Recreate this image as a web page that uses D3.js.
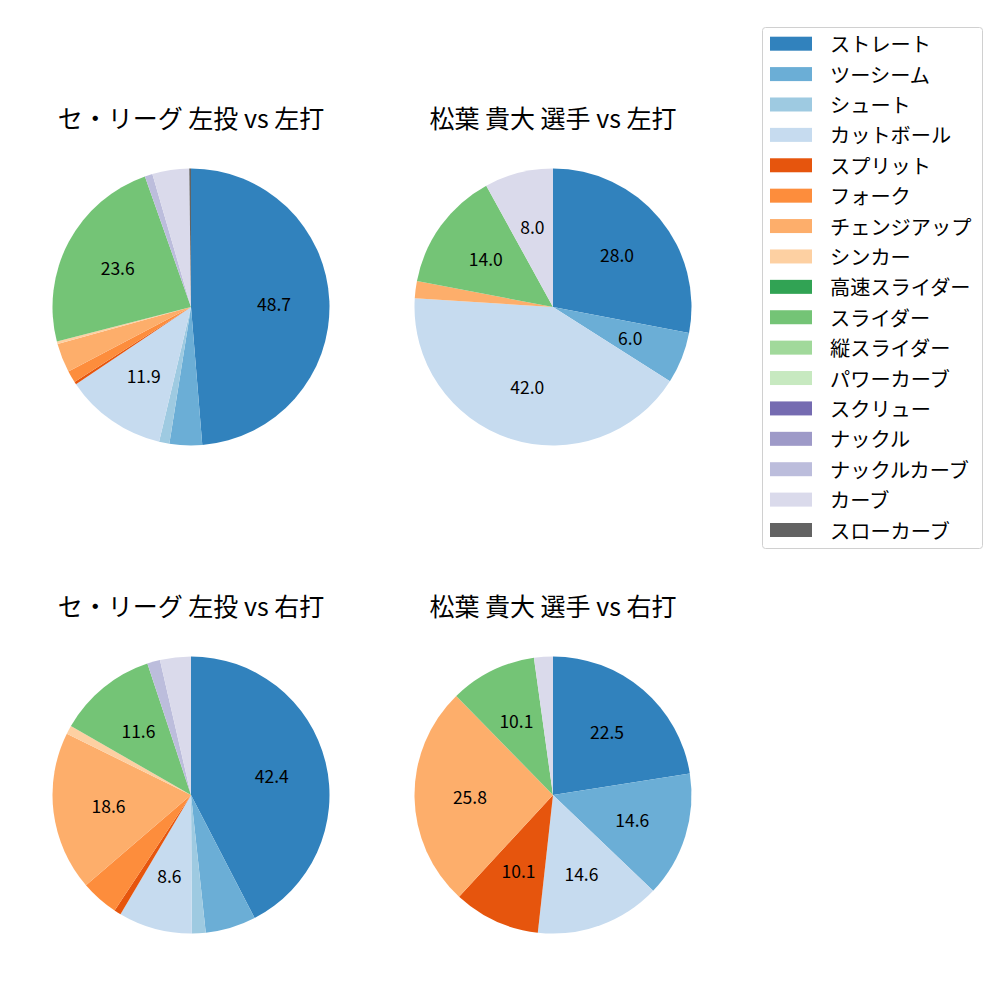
<!DOCTYPE html>
<html><head><meta charset="utf-8">
<script src="https://cdn.jsdelivr.net/npm/d3@7"></script>
<style>body{margin:0;background:#fff}svg{display:block}text{font-family:"Noto Sans CJK JP","Noto Sans",sans-serif}</style>
</head><body><svg id="c" width="1000" height="1000"></svg>
<script>
const pitchTypes = ["ストレート","ツーシーム","シュート","カットボール","スプリット","フォーク","チェンジアップ","シンカー","高速スライダー","スライダー","縦スライダー","パワーカーブ","スクリュー","ナックル","ナックルカーブ","カーブ","スローカーブ"];
const pitchColors = ["#3182bd","#6baed6","#9ecae1","#c6dbef","#e6550d","#fd8d3c","#fdae6b","#fdd0a2","#31a354","#74c476","#a1d99b","#c7e9c0","#756bb1","#9e9ac8","#bcbddc","#dadaeb","#636363"];
const chartTitles = ["セ・リーグ 左投 vs 左打","松葉 貴大 選手 vs 左打","セ・リーグ 左投 vs 右打","松葉 貴大 選手 vs 右打"];
const leagueVsLeft  = [48.7,3.8,1.2,11.9,0.3,1.4,3.4,0.3,0,23.6,0,0,0,0,0.9,4.3,0.2];
const playerVsLeft  = [28.0,6.0,0,42.0,0,0,2.0,0,0,14.0,0,0,0,0,0,8.0,0];
const leagueVsRight = [42.4,5.9,1.6,8.6,0.8,4.4,18.6,1.0,0,11.6,0,0,0,0,1.5,3.6,0];
const playerVsRight = [22.5,14.6,0,14.6,10.1,0,25.8,0,0,10.1,0,0,0,0,0,2.2,0];
const labelThreshold = 6;

const svg = d3.select("#c");
const series = [leagueVsLeft, playerVsLeft, leagueVsRight, playerVsRight];
const centers = [[191,307],[553,307],[191,795],[553,795]];
const R = 138.5;
const color = d3.scaleOrdinal().domain(pitchTypes).range(pitchColors);
const pie = d3.pie().sort(null).value(d => d.v);
const arc = d3.arc().innerRadius(0).outerRadius(R);
const labelArc = d3.arc().innerRadius(R*0.6).outerRadius(R*0.6);

series.forEach((vals, i) => {
  const data = pitchTypes.map((name, k) => ({name, v: vals[k]})).filter(d => d.v > 0);
  const g = svg.append("g").attr("transform", `translate(${centers[i][0]},${centers[i][1]})`);
  const arcs = pie(data);
  g.selectAll("path").data(arcs).join("path")
    .attr("d", arc).attr("fill", d => color(d.data.name));
  g.selectAll("text.lbl").data(arcs.filter(d => d.data.v >= labelThreshold)).join("text")
    .attr("class","lbl")
    .attr("transform", d => `translate(${labelArc.centroid(d)})`)
    .attr("text-anchor","middle").attr("dominant-baseline","central")
    .attr("font-size","17.5px").attr("fill","#000")
    .text(d => d3.format(".1f")(d.data.v));
  svg.append("text").attr("x", centers[i][0]).attr("y", centers[i][1] - 190)
    .attr("text-anchor","middle").attr("dominant-baseline","central")
    .attr("font-size","25px").attr("fill","#000").text(chartTitles[i]);
});

// legend
const lg = svg.append("g");
lg.append("rect").attr("x",762.5).attr("y",27.5).attr("width",220).attr("height",521)
  .attr("rx",3).attr("fill","#fff").attr("stroke","#d0d0d0");
const rowY = d3.scalePoint().domain(pitchTypes).range([43.7, 530]);
pitchTypes.forEach(name => {
  lg.append("rect").attr("x",770).attr("y",rowY(name)-7).attr("width",42).attr("height",14).attr("fill",color(name));
  lg.append("text").attr("x",830).attr("y",rowY(name)).attr("dominant-baseline","central")
    .attr("font-size","20.2px").attr("fill","#000").text(name);
});
</script></body></html>
